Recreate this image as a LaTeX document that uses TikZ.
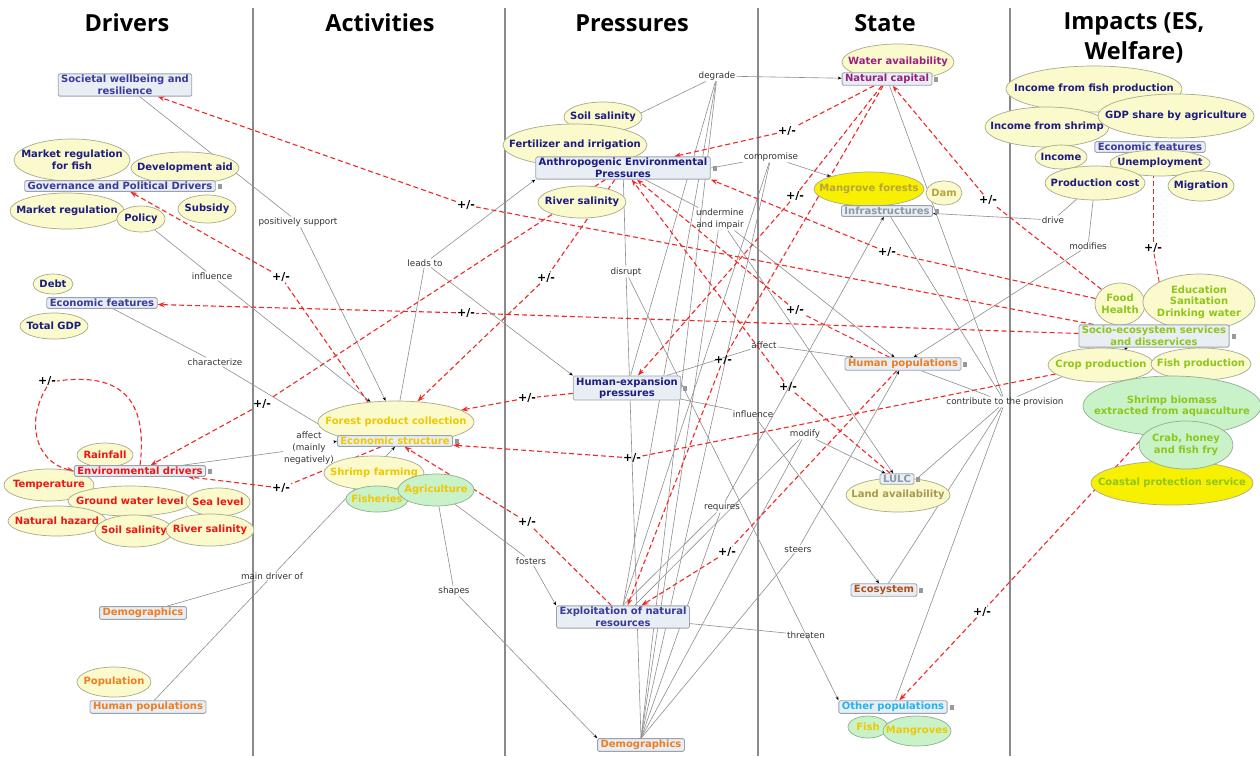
\documentclass[tikz,border=0pt]{standalone}
\usepackage{fontspec}
\setmainfont{DejaVu Sans}
\newfontfamily\titlefont{Open Sans}
\usetikzlibrary{shapes.geometric,arrows.meta}
\pgfdeclarelayer{back}
\pgfdeclarelayer{edges}
\pgfsetlayers{back,edges,main}
\definecolor{boxfill}{HTML}{E8EEF4}
\definecolor{boxline}{HTML}{9AA3AD}
\definecolor{ellfill}{HTML}{FAFACC}
\definecolor{ellline}{HTML}{A9AA8C}
\definecolor{grnfill}{HTML}{C9F2C9}
\definecolor{grnline}{HTML}{8FB08F}
\definecolor{yelfill}{HTML}{F7F000}
\definecolor{navy}{HTML}{1C1C82}
\definecolor{boxblue}{HTML}{3A3A9C}
\definecolor{redtxt}{HTML}{EE1515}
\definecolor{orangetxt}{HTML}{F07D1E}
\definecolor{goldtxt}{HTML}{F0C800}
\definecolor{purptxt}{HTML}{9A2080}
\definecolor{olivetxt}{HTML}{B8A43A}
\definecolor{graytxt}{HTML}{8C98A4}
\definecolor{browntxt}{HTML}{B04E1C}
\definecolor{cyantxt}{HTML}{22B4EE}
\definecolor{limetxt}{HTML}{8EC61A}
\definecolor{redline}{HTML}{F02828}
\definecolor{grayline}{HTML}{8E8E8E}
\definecolor{divcol}{HTML}{8A8A8A}
\newcommand\nodefnt{\fontsize{10}{11.5}\selectfont\bfseries}
\newcommand\labfnt{\fontsize{8.8}{12}\selectfont}
\newcommand\pmfnt{\fontsize{11}{12}\selectfont\bfseries}
\newcommand\titlefnt{\titlefont\bfseries\fontsize{23.5}{30}\selectfont}
\newcommand\ellnode[8]{%
  \node[ellipse, #6, line width=0.7pt, minimum width=#4pt, minimum height=#5pt, inner sep=0pt] (#1) at (#2,#3) {};
  \node[etext, text=#7] (#1-t) at (#2,#3) {#8};}
\newcommand\iconat[1]{\fill[black!40] ([shift={(2,-2.5)}]#1.east) rectangle ++(4,5);}
\begin{document}
\begin{tikzpicture}[x=1pt,y=-1pt,
  box/.style={rectangle, rounded corners=1.5pt, draw=boxline, fill=boxfill, line width=0.8pt, inner xsep=3pt, inner ysep=1.5pt, font=\nodefnt, align=center},
  etext/.style={inner sep=0pt, font=\nodefnt, align=center},
  yel/.style={fill=ellfill, draw=ellline},
  grn/.style={fill=grnfill, draw=grnline},
  bri/.style={fill=yelfill, draw=ellline},
  lab/.style={inner sep=1pt, font=\labfnt, text=black!80, align=center},
  pm/.style={inner sep=1pt, font=\pmfnt},
  gl/.style={draw=grayline, line width=0.6pt},
  ga/.style={gl, -{Stealth[length=4pt,width=3pt,color=black]}},
  rl/.style={draw=redline, line width=1.1pt, dash pattern=on 5pt off 3pt},
  ra/.style={rl, -{Stealth[length=7pt,width=5pt]}},
  divline/.style={draw=divcol, line width=2pt},
  ttl/.style={font=\titlefnt, align=center, inner sep=0pt}]

\useasboundingbox (0,0) rectangle (1260,756);
\begin{pgfonlayer}{back}
\fill[white] (0,0) rectangle (1260,756);
\draw[divline] (253,8) -- (253,756);
\draw[divline] (505,8) -- (505,756);
\draw[divline] (758,8) -- (758,756);
\draw[divline] (1010,8) -- (1010,756);
\end{pgfonlayer}

% titles
\node[ttl] (tD) at (127,23) {Drivers};
\node[ttl] (tA) at (380,23) {Activities};
\node[ttl] (tP) at (632,23) {Pressures};
\node[ttl] (tS) at (885,23) {State};
\node[ttl] (tI) at (1134,38) {Impacts (ES,\\Welfare)};

% ---------- Drivers
\node[box,text=boxblue] (soc) at (125,85) {Societal wellbeing and\\resilience};
\ellnode{mrf}{72}{160}{116}{42}{yel}{navy}{Market regulation\\for fish}
\ellnode{dev}{185}{168}{108}{32}{yel}{navy}{Development aid}
\ellnode{mr}{67}{211}{114}{36}{yel}{navy}{Market regulation}
\ellnode{pol}{141}{219}{48}{26}{yel}{navy}{Policy}
\ellnode{sub}{207}{209}{58}{28}{yel}{navy}{Subsidy}
\node[box,text=boxblue] (gov) at (120,186) {Governance and Political Drivers};
\ellnode{debt}{53}{284}{40}{20}{yel}{navy}{Debt}
\ellnode{tgdp}{54}{326}{68}{26}{yel}{navy}{Total GDP}
\node[box,text=boxblue] (efd) at (102,303) {Economic features};
\ellnode{rain}{105}{455}{56}{24}{yel}{redtxt}{Rainfall}
\ellnode{temp}{49}{485}{90}{32}{yel}{redtxt}{Temperature}
\ellnode{gwl}{130}{501}{124}{30}{yel}{redtxt}{Ground water level}
\ellnode{sea}{218}{502}{64}{28}{yel}{redtxt}{Sea level}
\ellnode{nh}{57}{521}{98}{30}{yel}{redtxt}{Natural hazard}
\ellnode{ss}{134}{531}{78}{32}{yel}{redtxt}{Soil salinity}
\ellnode{rs}{210}{530}{88}{32}{yel}{redtxt}{River salinity}
\node[box,text=redtxt] (env) at (140,471) {Environmental drivers};
\node[box,text=orangetxt] (demD) at (143,613) {Demographics};
\ellnode{popn}{114}{682}{74}{30}{yel}{orangetxt}{Population}
\node[box,text=orangetxt] (hpD) at (148,707) {Human populations};

% ---------- Activities
\ellnode{fpc}{396}{422}{156}{42}{yel}{goldtxt}{Forest product collection}
\ellnode{sf}{374}{473}{100}{34}{yel}{goldtxt}{Shrimp farming}
\ellnode{fish}{377}{499}{62}{26}{grn}{goldtxt}{Fisheries}
\ellnode{agri}{436}{490}{76}{32}{grn}{goldtxt}{Agriculture}
\node[box,text=goldtxt] (es) at (395,441) {Economic structure};

% ---------- Pressures
\ellnode{pss}{603}{117}{78}{30}{yel}{navy}{Soil salinity}
\ellnode{fert}{575}{145}{144}{42}{yel}{navy}{Fertilizer and irrigation}
\ellnode{prs}{582}{202}{88}{32}{yel}{navy}{River salinity}
\node[box,text=navy] (anth) at (623,168) {Anthropogenic Environmental\\Pressures};
\node[box,text=navy] (hexp) at (627,388) {Human-expansion\\pressures};
\node[box,text=boxblue] (expl) at (623,617) {Exploitation of natural\\resources};
\node[box,text=orangetxt] (demP) at (641,745) {Demographics};

% ---------- State
\ellnode{wa}{898}{62}{112}{36}{yel}{purptxt}{Water availability}
\node[box,text=purptxt] (nc) at (887,79) {Natural capital};
\ellnode{mf}{869}{189}{110}{34}{bri}{olivetxt}{Mangrove forests}
\ellnode{dam}{944}{193}{36}{24}{yel}{olivetxt}{Dam}
\node[box,text=graytxt] (inf) at (887,211) {Infrastructures};
\node[box,text=orangetxt] (hpS) at (903,364) {Human populations};
\ellnode{la}{898}{495}{104}{34}{yel}{olivetxt!70!gray}{Land availability}
\node[box,text=graytxt] (lulc) at (897,479) {LULC};
\node[box,text=browntxt] (eco) at (884,590) {Ecosystem};
\ellnode{fishS}{868}{727}{40}{22}{grn}{goldtxt}{Fish}
\ellnode{mang}{917}{731}{68}{30}{grn}{goldtxt}{Mangroves}
\node[box,text=cyantxt] (op) at (893,707) {Other populations};

% ---------- Impacts
\ellnode{iffp}{1094}{89}{176}{46}{yel}{navy}{Income from fish production}
\ellnode{ifs}{1047}{127}{124}{40}{yel}{navy}{Income from shrimp}
\ellnode{gdp}{1176}{116}{156}{44}{yel}{navy}{GDP share by agriculture}
\node[box,text=boxblue] (efi) at (1150,147) {Economic features};
\ellnode{inc}{1061}{157}{52}{24}{yel}{navy}{Income}
\ellnode{unemp}{1160}{163}{100}{26}{yel}{navy}{Unemployment}
\ellnode{pc}{1095}{183}{100}{34}{yel}{navy}{Production cost}
\ellnode{mig}{1201}{186}{66}{30}{yel}{navy}{Migration}
\ellnode{fh}{1120}{304}{50}{42}{yel}{limetxt}{Food\\Health}
\ellnode{edu}{1199}{302}{112}{56}{yel}{limetxt}{Education\\Sanitation\\Drinking water}
\ellnode{crop}{1101}{365}{106}{34}{yel}{limetxt}{Crop production}
\ellnode{fp}{1201}{364}{100}{32}{yel}{limetxt}{Fish production}
\node[box,text=limetxt] (ses) at (1154,336) {Socio-ecosystem services\\and disservices};
\ellnode{cps}{1172}{483}{162}{44}{bri}{limetxt}{Coastal protection service}
\ellnode{sb}{1172}{406}{178}{60}{grn}{limetxt}{Shrimp biomass\\extracted from aquaculture}
\ellnode{crab}{1186}{445}{94}{48}{grn}{limetxt}{Crab, honey\\and fish fry}

% icons
\iconat{gov}\iconat{env}\iconat{es}\iconat{anth}\iconat{hexp}\iconat{nc}
\iconat{inf}\iconat{hpS}\iconat{lulc}\iconat{eco}\iconat{op}\iconat{ses}

% ---------- connector labels
\node[lab] (psup) at (298,222) {positively support};
\node[lab] (infl1) at (212,276) {influence};
\node[lab] (char) at (215,362) {characterize};
\node[lab] (leads) at (425,263) {leads to};
\node[lab] (affmn) at (309,448) {affect\\(mainly\\negatively)};
\node[lab] (mdo) at (272,576) {main driver of};
\node[lab] (shp) at (454,591) {shapes};
\node[lab] (fost) at (531,561) {fosters};
\node[lab] (degr) at (717,76) {degrade};
\node[lab] (comp) at (771,157) {compromise};
\node[lab] (undm) at (720,219) {undermine\\and impair};
\node[lab] (disr) at (626,272) {disrupt};
\node[lab] (aff2) at (764,345) {affect};
\node[lab] (infl2) at (753,414) {influence};
\node[lab] (modi) at (805,434) {modify};
\node[lab] (req) at (722,507) {requires};
\node[lab] (steer) at (798,549) {steers};
\node[lab] (thr) at (806,635) {threaten};
\node[lab] (contr) at (1005,402) {contribute to the provision};
\node[lab] (drv) at (1053,220) {drive};
\node[lab] (mods) at (1088,246) {modifies};

% +/- labels
\node[pm] (pm1) at (466,205) {+/-};
\node[pm] (pm2) at (281,277) {+/-};
\node[pm] (pm3) at (466,313) {+/-};
\node[pm] (pm4) at (47,381) {+/-};
\node[pm] (pm5) at (262,404) {+/-};
\node[pm] (pm6) at (281,488) {+/-};
\node[pm] (pm7) at (527,398) {+/-};
\node[pm] (pm8) at (546,278) {+/-};
\node[pm] (pm9) at (632,458) {+/-};
\node[pm] (pm10) at (527,522) {+/-};
\node[pm] (pm11) at (727,552) {+/-};
\node[pm] (pm12) at (787,131) {+/-};
\node[pm] (pm13) at (795,196) {+/-};
\node[pm] (pm14) at (723,360) {+/-};
\node[pm] (pm15) at (795,310) {+/-};
\node[pm] (pm16) at (788,387) {+/-};
\node[pm] (pm17) at (887,252) {+/-};
\node[pm] (pm18) at (988,200) {+/-};
\node[pm] (pm19) at (1153,248) {+/-};
\node[pm] (pm20) at (982,612) {+/-};

\begin{pgfonlayer}{edges}
% gray concept links
\draw[gl] (soc) -- (psup);  \draw[ga] (psup) -- (fpc);
\draw[gl] (pol) -- (infl1); \draw[ga] (infl1) -- (fpc);
\draw[gl] (efd) -- (char);  \draw[ga] (char) -- (es.north west);
\draw[gl] (env) -- (affmn); \draw[ga] (affmn) -- (es.west);
\draw[gl] (fpc) -- (leads); \draw[ga] (leads) -- (anth.south west); \draw[ga] (leads) -- (hexp.north west);
\draw[gl] (demD) -- (mdo); \draw[gl] (hpD) -- (mdo); \draw[ga] (mdo) -- (es.south);
\draw[gl] (agri) -- (shp); \draw[ga] (shp) -- (demP.north west);
\draw[gl] (agri) -- (fost); \draw[ga] (fost) -- (expl.north west);
\draw[gl] (fert) -- (degr); \draw[ga] (degr) -- (nc);
\draw[gl] (expl.north) -- (degr); \draw[gl] (demP.north) -- (degr); \draw[gl] (hexp) -- (degr);
\draw[gl] (anth.east) -- (comp); \draw[ga] (comp) -- (mf);
\draw[gl] (expl.north) -- (comp); \draw[gl] (demP.north) -- (comp);
\draw[gl] (anth) -- (undm); \draw[ga] (undm) -- (hpS); \draw[ga] (undm) -- (lulc);
\draw[gl] (demP.north) -- (undm);
\draw[gl] (anth) -- (disr); \draw[gl] (demP.north) -- (disr); \draw[ga] (disr) -- (op.north west);
\draw[gl] (expl) -- (thr);
\draw[gl] (hexp) -- (aff2); \draw[ga] (aff2) -- (hpS);
\draw[gl] (hexp) -- (infl2); \draw[ga] (infl2) -- (eco);
\draw[gl] (expl) -- (modi); \draw[gl] (demP.north) -- (modi); \draw[ga] (modi) -- (lulc);
\draw[gl] (expl.north) -- (req); \draw[gl] (demP.north) -- (req); \draw[ga] (req) -- (inf);
\draw[gl] (demP.north) -- (steer); \draw[ga] (steer) -- (hpS);
\draw[gl] (nc) -- (contr); \draw[gl] (inf) -- (contr); \draw[gl] (hpS) -- (contr);
\draw[gl] (la) -- (contr); \draw[gl] (eco) -- (contr); \draw[gl] (op) -- (contr);
\draw[ga] (contr) -- (ses);
\draw[gl] (pc) -- (drv); \draw[ga] (drv) -- (inf);
\draw[gl] (pc) -- (mods); \draw[ga] (mods) -- (hpS);

% red +/- links
\draw[rl] (ses) -- (pm1); \draw[ra] (pm1) -- (soc);
\draw[rl] (es) -- (pm2); \draw[ra] (pm2) -- (gov);
\draw[rl] (ses) -- (pm3); \draw[ra] (pm3) -- (efd);
\draw[rl] (env.north) .. controls (148,400) and (122,372) .. (pm4.east);
\draw[ra] (pm4.south) .. controls (26,420) and (34,462) .. (env.west);
\draw[rl] (anth) -- (pm5); \draw[ra] (pm5) -- (env);
\draw[rl] (es) -- (pm6); \draw[ra] (pm6) -- (env);
\draw[rl] (hexp) -- (pm7); \draw[ra] (pm7) -- (fpc);
\draw[rl] (anth) -- (pm8); \draw[ra] (pm8) -- (fpc);
\draw[rl] (crop) -- (pm9); \draw[ra] (pm9) -- (es);
\draw[rl] (expl) -- (pm10); \draw[ra] (pm10) -- (es);
\draw[rl] (hpS) -- (pm11); \draw[ra] (pm11) -- (expl);
\draw[rl] (nc) -- (pm12); \draw[ra] (pm12) -- (anth);
\draw[rl] (nc) -- (pm13); \draw[ra] (pm13) -- (hexp);
\draw[rl] (nc) -- (pm14); \draw[ra] (pm14) -- (expl);
\draw[rl] (hpS) -- (pm15); \draw[ra] (pm15) -- (anth);
\draw[rl] (lulc) -- (pm16); \draw[ra] (pm16) -- (anth);
\draw[rl] (fh) -- (pm17); \draw[ra] (pm17) -- (anth.south east);
\draw[rl] (fh) -- (pm18); \draw[ra] (pm18) -- (nc);
\draw[rl, line width=0.9pt] (edu.north west) -- (pm19); \draw[rl, line width=0.9pt] (pm19) -- (pm19 |- unemp.south);
\draw[rl] (sb) -- (pm20); \draw[ra] (pm20) -- (op);
\end{pgfonlayer}
\end{tikzpicture}
\end{document}
